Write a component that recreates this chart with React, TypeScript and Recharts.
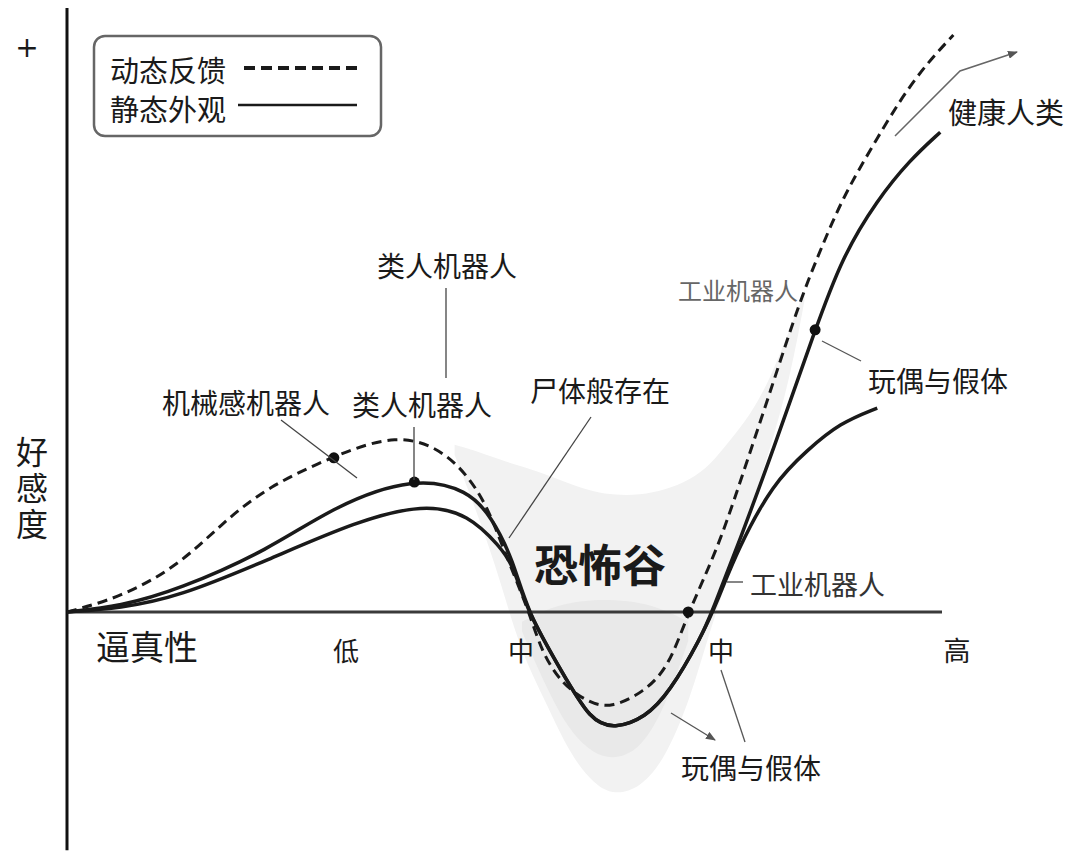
import React from 'react';
import { ComposedChart, Line, Area, XAxis, YAxis, ReferenceLine, ReferenceDot } from 'recharts';

// realism (0..100) vs affinity
const dynamicX = [0, 6.1, 12.7, 17.8, 23.0, 30.5, 37.7, 43.3, 47.4, 49.5, 51.0, 52.8, 54.3, 56.6, 59.8, 62.3, 65.9, 68.8, 71.0, 74.3, 76.9, 80.7, 83.8, 86.1, 88.7, 91.8, 95.2, 98.3, 101.3];
const dynamicY = [0, 3.0, 9.5, 18.5, 26.0, 32.3, 37.0, 33.5, 24.6, 14.9, 8.1, 0, -8.5, -15.0, -19.0, -19.8, -16.6, -11.4, 0, 12.8, 26.7, 47.4, 64.6, 74.9, 85.9, 95.6, 106.0, 113.6, 119.4];

const staticX = [0, 6.1, 12.7, 23.0, 30.6, 39.7, 45.9, 48.5, 51.0, 52.6, 56.6, 59.8, 62.6, 66.1, 68.8, 72.5, 73.7, 76.9, 80.7, 85.5, 88.6, 92.6, 96.3, 99.8];
const staticY = [0, 1.2, 4.6, 12.8, 22.0, 28.0, 25.2, 19.7, 10.8, 0, -12.5, -22.5, -24.2, -21.8, -16.8, -5.2, 0, 14.9, 33.5, 58.4, 73.5, 85.3, 93.5, 99.3];

const lowerX = [0, 6.1, 12.7, 23.0, 33.1, 40.8, 45.9, 49.5, 51.0, 52.6, 56.6, 59.8, 62.6, 66.1, 68.8, 72.5, 74.4, 76.6, 80.7, 84.6, 88.3, 92.6];
const lowerY = [0, 0.8, 3.1, 10.8, 18.8, 22.4, 20.2, 13.5, 9.7, 0, -12.5, -22.5, -24.2, -21.8, -16.8, -5.2, 2.5, 12.8, 26.7, 33.5, 39.1, 42.2];

// grey valley band
const bandX = [44.3, 47.2, 49.5, 51.8, 54.6, 57.5, 60.3, 62.6, 65.5, 68.3, 71.2, 73.5, 75.8, 78.1, 80.3, 82.6, 84.3];
const bandHigh = [34.6, 33.1, 31.5, 30.2, 28.6, 26.5, 24.8, 24.2, 24.2, 25.2, 27.3, 30.4, 35.6, 40.8, 48.0, 58.4, 66.6];
const bandLow = [32.5, 19.0, 6.6, -7.9, -18.2, -29.6, -35.8, -37.9, -36.4, -30.6, -18.2, -3.7, 8.7, 21.1, 33.5, 48.0, 64.6];

const coreX = [52.0, 54.6, 57.5, 60.3, 62.6, 65.5, 68.3, 71.0];
const coreHigh = [-2.0, 0.5, 2.0, 2.5, 2.5, 2.0, 0.5, -2.0];
const coreLow = [-4.0, -15.0, -25.0, -29.5, -30.5, -28.5, -20.0, -6.0];

const dots = [
  { x: 30.5, y: 31.9 },
  { x: 39.7, y: 26.9 },
  { x: 71.0, y: 0 },
  { x: 85.5, y: 58.4 },
];

const toPoints = (xs: number[], ys: number[]) => xs.map((x, i) => ({ x, y: ys[i] }));
const toRange = (xs: number[], lo: number[], hi: number[]) => xs.map((x, i) => ({ x, range: [lo[i], hi[i]] }));

const dynamicData = toPoints(dynamicX, dynamicY);
const staticData = toPoints(staticX, staticY);
const lowerData = toPoints(lowerX, lowerY);
const bandData = toRange(bandX, bandLow, bandHigh);
const coreData = toRange(coreX, coreLow, coreHigh);

const FONT = '"Noto Sans CJK SC", "Noto Sans", sans-serif';
const INK = '#1a1a1a';

const Label = ({ x, y, size = 28, anchor = 'start', fill = INK, weight = 400, family = FONT, style, children }: any) => (
  <text x={x} y={y} fontSize={size} textAnchor={anchor} dominantBaseline="central" fill={fill} fontWeight={weight} fontFamily={family} style={style}>
    {children}
  </text>
);

const Overlay = () => (
  <svg width={1080} height={859} style={{ position: 'absolute', left: 0, top: 0, pointerEvents: 'none' }}>
    <defs>
      <marker id="arr" markerWidth="10" markerHeight="8" refX="9" refY="4" orient="auto" markerUnits="userSpaceOnUse">
        <path d="M0,0 L10,4 L0,8 Z" fill="#555" />
      </marker>
    </defs>

    <Label x={27} y={47} size={28} anchor="middle" family='"DejaVu Sans", sans-serif'>+</Label>

    {/* legend */}
    <rect x={94} y={36} width={287} height={100} rx={11} fill="#fff" stroke="#666" strokeWidth={2.5} />
    <Label x={110} y={69} size={29}>动态反馈</Label>
    <line x1={244} y1={68} x2={357} y2={68} stroke={INK} strokeWidth={4} strokeDasharray="11 6" />
    <Label x={110} y={108} size={29}>静态外观</Label>
    <line x1={238} y1={105} x2={357} y2={105} stroke={INK} strokeWidth={2.5} />

    {/* axis titles */}
    <Label x={32} y={436} size={32} style={{ writingMode: 'vertical-rl', letterSpacing: 4 }}>好感度</Label>
    <Label x={96} y={645} size={34}>逼真性</Label>
    <Label x={346} y={649} size={26} anchor="middle">低</Label>
    <Label x={521} y={649} size={26} anchor="middle">中</Label>
    <Label x={721} y={649} size={26} anchor="middle">中</Label>
    <Label x={957} y={649} size={27} anchor="middle">高</Label>

    {/* annotations */}
    <Label x={447} y={265} size={28} anchor="middle">类人机器人</Label>
    <line x1={446} y1={288} x2={446} y2={378} stroke="#444" strokeWidth={1.3} />
    <Label x={246} y={402} size={28} anchor="middle">机械感机器人</Label>
    <line x1={281} y1={420} x2={357} y2={478} stroke="#444" strokeWidth={1.3} />
    <Label x={422} y={404} size={28} anchor="middle">类人机器人</Label>
    <line x1={414} y1={427} x2={414} y2={480} stroke="#444" strokeWidth={1.3} />
    <Label x={600} y={390} size={28} anchor="middle">尸体般存在</Label>
    <line x1={591} y1={417} x2={509} y2={538} stroke="#444" strokeWidth={1.3} />
    <Label x={600} y={563} size={44} anchor="middle" weight={700}>恐怖谷</Label>

    <Label x={678} y={289} size={24} fill="#666">工业机器人</Label>
    <Label x={750} y={583} size={27} fill="#333">工业机器人</Label>
    <line x1={727} y1={582} x2={743} y2={582} stroke="#444" strokeWidth={1.3} />

    <Label x={868} y={380} size={28}>玩偶与假体</Label>
    <line x1={822} y1={341} x2={861} y2={361} stroke="#555" strokeWidth={1.3} />
    <Label x={681} y={767} size={28}>玩偶与假体</Label>
    <line x1={721} y1={670} x2={745} y2={742} stroke="#555" strokeWidth={1.3} />
    <line x1={671} y1={713} x2={715} y2={740} stroke="#555" strokeWidth={1.3} markerEnd="url(#arr)" />

    <Label x={948} y={111} size={29}>健康人类</Label>
    <polyline points="895,136 960,71 1017,52" fill="none" stroke="#666" strokeWidth={1.5} markerEnd="url(#arr)" />
  </svg>
);

const App: React.FC = () => {
  return (
    <div style={{ position: 'absolute', left: 0, top: 0, width: 1080, height: 859, background: '#fff' }}>
      <ComposedChart width={1080} height={859} margin={{ top: 8, right: 6.75, bottom: 5.4, left: 67 }}>
        <XAxis type="number" dataKey="x" domain={[0, 115]} hide allowDataOverflow />
        <YAxis type="number" domain={[-50, 125]} hide allowDataOverflow />

        <Area data={bandData} dataKey="range" type="basis" stroke="none" fill="#f2f2f2" fillOpacity={1} isAnimationActive={false} />
        <Area data={coreData} dataKey="range" type="basis" stroke="none" fill="#e9e9e9" fillOpacity={1} isAnimationActive={false} />

        <ReferenceLine segment={[{ x: 0, y: -49.3 }, { x: 0, y: 125 }]} stroke="#111" strokeWidth={3} />
        <ReferenceLine segment={[{ x: 0, y: 0 }, { x: 100, y: 0 }]} stroke="#3a3a3a" strokeWidth={3} />

        <Line data={lowerData} dataKey="y" type="basis" stroke={INK} strokeWidth={3.5} dot={false} isAnimationActive={false} />
        <Line data={staticData} dataKey="y" type="basis" stroke={INK} strokeWidth={3.5} dot={false} isAnimationActive={false} />
        <Line data={dynamicData} dataKey="y" type="basis" stroke={INK} strokeWidth={3} strokeDasharray="10 6" dot={false} isAnimationActive={false} />

        {dots.map((d, i) => (
          <ReferenceDot key={i} x={d.x} y={d.y} r={5.5} fill="#111" stroke="none" />
        ))}
      </ComposedChart>
      <Overlay />
    </div>
  );
};

export default App;
